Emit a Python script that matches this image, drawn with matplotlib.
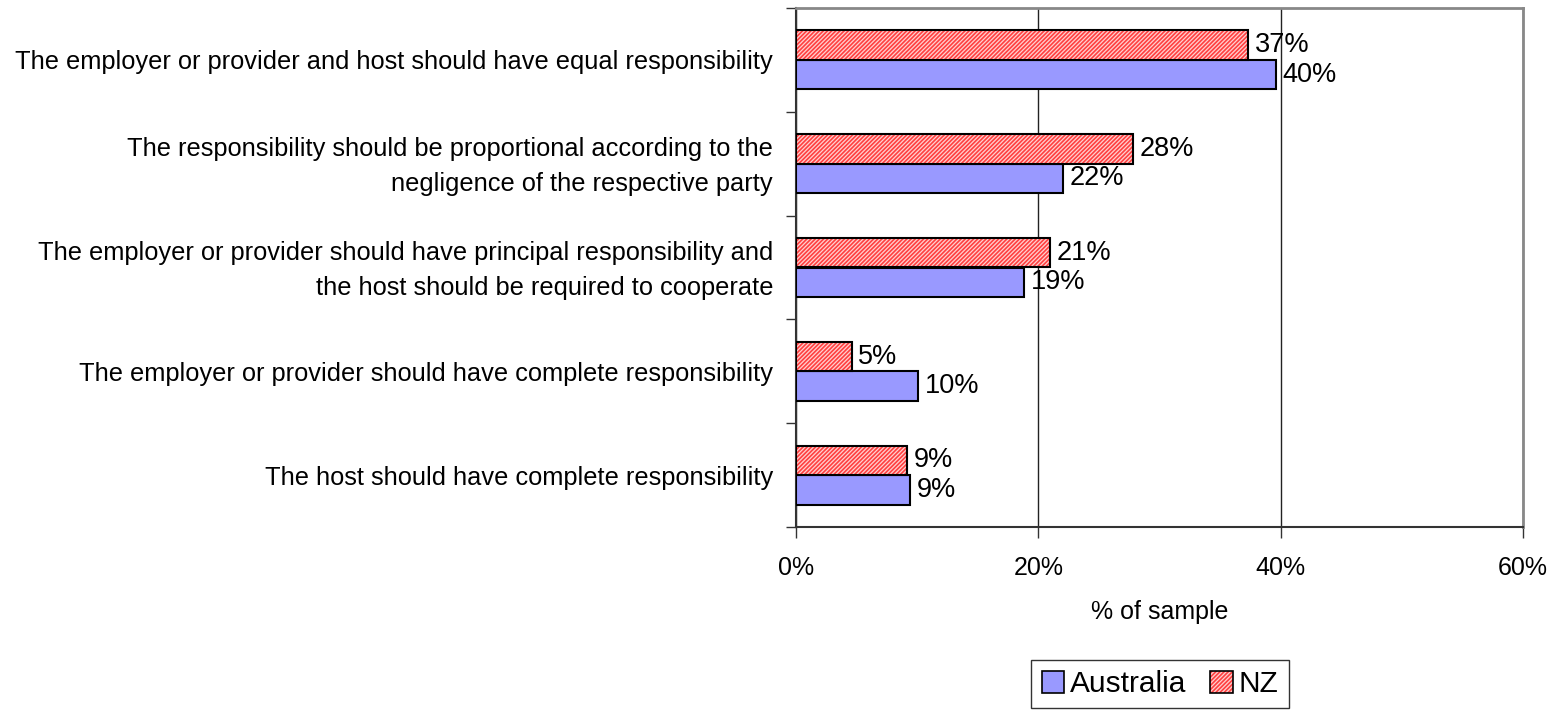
import matplotlib.pyplot as plt
import matplotlib.transforms as mtransforms
import numpy as np
from matplotlib.legend_handler import HandlerTuple
from matplotlib.patches import Patch

plt.rcParams['font.family'] = ['Liberation Sans', 'DejaVu Sans']
plt.rcParams['hatch.linewidth'] = 1.2

categories = [
    "The employer or provider and host should have equal responsibility",
    "The responsibility should be proportional according to the\nnegligence of the respective party",
    "The employer or provider should have principal responsibility and\nthe host should be required to cooperate",
    "The employer or provider should have complete responsibility",
    "The host should have complete responsibility",
]
australia = [39.6, 22.0, 18.8, 10.1, 9.4]
nz = [37.3, 27.8, 21.0, 4.6, 9.2]
australia_labels = ["40%", "22%", "19%", "10%", "9%"]
nz_labels = ["37%", "28%", "21%", "5%", "9%"]
xticks = [0, 20, 40, 60]

aus_color = "#9999FF"
nz_face = "#FFD0D0"
nz_hatch_color = "#FF4040"
nz_hatch = "////////"

fig = plt.figure(figsize=(15.57, 7.10), dpi=100)
ax = fig.add_axes([796 / 1557, 1 - 527 / 710, (1523 - 796) / 1557, (527 - 8) / 710])

y = np.arange(len(categories))
h = 0.285

ax.barh(y + h / 2, australia, height=h, color=aus_color, edgecolor="black", linewidth=1.5, zorder=3)
ax.barh(y - h / 2, nz, height=h, color=nz_face, edgecolor=nz_hatch_color, hatch=nz_hatch, linewidth=0, zorder=3)
ax.barh(y - h / 2, nz, height=h, fill=False, edgecolor="black", linewidth=1.5, zorder=4)

for yi, v, lab in zip(y, australia, australia_labels):
    ax.text(v + 0.55, yi + h / 2, lab, va="center", ha="left", fontsize=19.5, zorder=5)
for yi, v, lab in zip(y, nz, nz_labels):
    ax.text(v + 0.55, yi - h / 2, lab, va="center", ha="left", fontsize=19.5, zorder=5)

ax.set_xlim(0, 60)
ax.set_ylim(len(categories) - 0.5, -0.5)
ax.set_xticks(xticks)
ax.set_xticklabels([f"{t}%" for t in xticks], fontsize=18)
ax.tick_params(axis="x", length=8, width=1, pad=13, color="#333333")

ax.set_yticks(y)
ax.set_yticklabels(categories, fontsize=18.3, linespacing=1.57)
ax.tick_params(axis="y", length=0, pad=16.5)
ax.set_yticks(np.arange(len(categories) + 1) - 0.5, minor=True)
ax.tick_params(axis="y", which="minor", length=7, width=1, color="#333333")
ax.tick_params(axis="x", which="minor", length=0)

# two-line labels sit a little high in the original
shift = mtransforms.ScaledTranslation(0, 5 / 100, fig.dpi_scale_trans)
for lab in ax.get_yticklabels():
    if "\n" in lab.get_text():
        lab.set_transform(lab.get_transform() + shift)

ax.grid(axis="x", color="#222222", linewidth=1, zorder=0)
ax.set_axisbelow(True)
for s in ["top", "right"]:
    ax.spines[s].set_color("#888888")
    ax.spines[s].set_linewidth(2)
for s in ["left", "bottom"]:
    ax.spines[s].set_color("#333333")
    ax.spines[s].set_linewidth(1.5)

ax.set_xlabel("% of sample", fontsize=18, labelpad=14)

aus_handle = Patch(facecolor=aus_color, edgecolor="black", linewidth=1.2)
nz_fill = Patch(facecolor=nz_face, edgecolor=nz_hatch_color, hatch=nz_hatch, linewidth=0)
nz_edge = Patch(fill=False, edgecolor="black", linewidth=1.2)
leg = fig.legend([aus_handle, (nz_fill, nz_edge)], ["Australia", "NZ"],
                 handler_map={tuple: HandlerTuple(ndivide=1, pad=0)},
                 loc="center", bbox_to_anchor=(1160 / 1557, 1 - 684 / 710),
                 ncol=2, fontsize=21.5, frameon=True, fancybox=False,
                 handlelength=0.75, handleheight=0.75, handletextpad=0.2,
                 columnspacing=0.8, borderpad=0.35, borderaxespad=0)
leg.get_frame().set_edgecolor("black")
leg.get_frame().set_linewidth(1)

fig.savefig("out.png", dpi=100)
